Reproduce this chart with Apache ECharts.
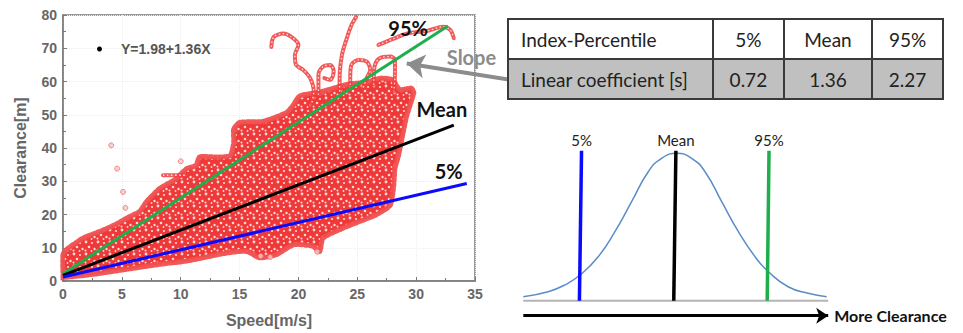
<!DOCTYPE html>
<html>
<head>
<meta charset="utf-8">
<script src="https://cdn.jsdelivr.net/npm/echarts@6/dist/echarts.min.js"></script>
<style>
  html, body { margin: 0; padding: 0; background: #fff; }
  #wrap { position: relative; width: 963px; height: 333px; }
  #chart { position: absolute; left: 0; top: 0; width: 963px; height: 333px; }
  #coef {
    position: absolute; left: 507px; top: 18px; width: 437px; height: 79px;
    border-collapse: collapse; font-family: Lato, 'Noto Sans', sans-serif; font-size: 19px; color: #222;
  }
  #coef td { border: 2px solid #3a3a3a; padding: 0; text-align: center; height: 38px; }
  #coef td:first-child { text-align: left; padding-left: 12px; width: 191px; }
  #coef tr.grey td { background: #c0c0c0; }
</style>
</head>
<body>
<div id="wrap">
  <div id="chart"></div>
  <table id="coef"></table>
</div>
<script>
const cloudOutline = [
  [0, 1], [0, 8], [0.3, 9.5], [1.7, 12.9], [3.1, 14.9], [4.4, 16.9], [5.4, 18.9], [6.5, 20.9],
  [7.1, 23.9], [8.2, 27.8], [9.5, 30.5], [10.5, 33.8], [11.3, 34.8], [11.6, 37.3], [13, 37.3],
  [14.2, 37.7], [14.5, 41.7], [14.5, 45.7], [15, 47.7], [17, 48], [19, 50.7], [19.5, 52.6],
  [20.1, 55.6], [22, 57], [24, 59], [26, 60], [27, 61], [28, 60.5], [28.6, 57.6], [29.6, 58],
  [29.8, 56.6], [29.2, 49.7], [28.9, 44.7], [28.5, 37.7], [28.2, 33.8], [28.1, 28.8],
  [27.8, 22.8], [26.6, 19.9], [25.2, 17.9], [23.8, 15.9], [22.1, 12.9], [21.8, 8.9],
  [21.2, 10.5], [19.6, 10.9], [18.1, 7.9], [16.7, 7], [15.6, 8.9], [13.9, 8.4], [11.9, 7],
  [10.5, 6], [8.2, 5], [5.4, 3.5], [2.55, 2], [0, 1]
];
// loose trails of points leaving the cloud
const trailA = [[17.7, 70.4], [17.9, 73.4], [18.7, 74.4], [19.4, 73.4], [20, 71], [19.7, 68], [19.8, 65], [20.4, 63.5], [21, 61], [21.3, 57], [21.1, 53]];
const trailB = [[21.7, 56], [21.7, 62], [22.1, 64.5], [22.7, 65], [23, 63], [22.7, 60.5], [22.2, 61]];
const trailC = [[23.5, 57], [23.5, 61], [23.7, 68], [24.1, 72.9], [24.5, 76.9], [24.9, 79.4]];
const trailD = [[24.4, 59], [24.4, 61], [24.5, 65], [25.1, 66.5], [25.8, 66], [26.1, 63.5], [25.8, 61], [25.5, 58]];
const trailE = [[26.4, 59], [26.4, 61], [26.5, 65], [26.9, 67], [27.8, 67.5], [28.2, 66.5], [28.2, 62], [28.1, 57]];
const trailF = [[26.8, 71], [28.1, 72.9], [29.2, 74.4], [30.9, 75.2], [32.3, 76.5], [32.9, 75.5], [33.2, 73]];
const trailG = [[8.5, 31.8], [10.5, 31.8]];
const outliers = [[4.1, 40.8], [4.6, 33.8], [5.1, 26.8], [5.3, 22], [10, 36], [21.6, 8.8], [16.8, 7.5], [17.6, 7.2]];

// percentile regression lines
const fit95 = [[0, 2.2], [32.7, 76.7]];
const fitMean = [[0, 1.7], [33.2, 46.9]];
const fit5 = [[0, 1.2], [34.3, 29.3]];

const tableHeader = ['Index-Percentile', '5%', 'Mean', '95%'];
const tableRow = ['Linear coefficient [s]', '0.72', '1.36', '2.27'];

// sketch of the distribution (relative position, relative height)
const bellCurve = [
  [0, 2.7], [8.2, 6], [13.7, 10.5], [18.7, 17.1], [24.7, 29.3], [30.2, 46], [35.7, 66],
  [41.2, 86], [45.6, 94.9], [50.6, 98.3], [55.5, 94.9], [59.9, 86], [65.4, 66], [70.9, 46],
  [76.4, 29.3], [80.8, 19.3], [87.3, 9.3], [93.9, 4.9], [100, 2.7]
];
const bellBase = [[0, 0], [100.5, 0]];
const bell5 = [[18.5, 0], [19.2, 100]];
const bellMean = [[49.6, 0], [50.3, 100]];
const bell95 = [[80.4, 0], [81, 100]];

const table = document.getElementById('coef');
table.innerHTML =
  '<tr>' + tableHeader.map(t => '<td>' + t + '</td>').join('') + '</tr>' +
  '<tr class="grey">' + tableRow.map(t => '<td>' + t + '</td>').join('') + '</tr>';

// texture tile for the dense point cloud (pale centres of the hollow markers)
function speckle() {
  const c = document.createElement('canvas');
  c.width = 12; c.height = 12;
  const g = c.getContext('2d');
  g.fillStyle = '#ee2e2e';
  g.fillRect(0, 0, 12, 12);
  g.fillStyle = '#fbd4d4';
  [[2, 2, 1.4], [8, 3, 1.1], [5, 7, 1.3], [10.5, 9, 1.2], [1.5, 10.5, 1], [7.5, 11, 0.9]].forEach(function(d) {
    g.beginPath(); g.arc(d[0], d[1], d[2], 0, Math.PI * 2); g.fill();
  });
  return c.toDataURL();
}
const speckleUrl = speckle();

const axisFont = { color: '#666', fontSize: 14, fontWeight: 'bold', fontFamily: 'Liberation Sans' };
const markFont = { color: '#111', fontSize: 20, fontWeight: 'bold', fontFamily: 'Lato' };

// a trail is drawn as a red chain with pale centres, like the hollow markers
function trail(points) {
  return [
    {
      type: 'line', data: points, xAxisIndex: 0, yAxisIndex: 0, smooth: 0.3,
      symbol: 'none', silent: true, z: 3,
      lineStyle: { color: '#f03c3c', width: 4, opacity: 0.85, cap: 'round', join: 'round' }
    },
    {
      type: 'line', data: points, xAxisIndex: 0, yAxisIndex: 0, smooth: 0.3,
      symbol: 'none', silent: true, z: 3,
      lineStyle: { color: '#fde0e0', width: 1.3, type: [1.5, 2.5] }
    }
  ];
}

function fitLine(points, color, label) {
  return {
    type: 'line', xAxisIndex: 0, yAxisIndex: 0, symbol: 'circle', symbolSize: 0, z: 5,
    lineStyle: { color: color, width: 3 },
    itemStyle: { color: color },
    data: [points[0], { value: points[1], label: Object.assign({ show: true }, markFont, label) }]
  };
}

function bellMarker(points, color, text) {
  return {
    type: 'line', xAxisIndex: 1, yAxisIndex: 1, symbol: 'circle', symbolSize: 0, z: 5,
    lineStyle: { color: color, width: 3.5 },
    data: [points[0], {
      value: points[1],
      label: { show: true, formatter: text, position: 'top', distance: 3, color: '#222', fontSize: 15, fontFamily: 'Lato' }
    }]
  };
}

const chart = echarts.init(document.getElementById('chart'), null, { renderer: 'svg' });

const slopeLine = fitLine(fit95, '#1fae4c', { formatter: '95%', position: 'left', distance: 20, offset: [0, 2] });
// pointer from the table edge to the slope of the 95% line
slopeLine.markLine = {
  silent: true, symbol: ['none', 'arrow'], symbolSize: 18, label: { show: false },
  lineStyle: { color: '#8c8c8c', width: 4, type: 'solid' },
  data: [[{ x: 512, y: 80 }, { coord: [29.2, 65.4] }]]
};
slopeLine.markPoint = {
  silent: true, symbolSize: 0,
  label: { show: true, position: 'inside', formatter: 'Slope', color: '#8c8c8c', fontSize: 20, fontWeight: 'bold', fontFamily: 'Lato' },
  data: [{ coord: [34.7, 67.5] }]
};

chart.setOption({
  animation: false,
  backgroundColor: '#fff',
  legend: {
    left: 92, top: 37, selectedMode: false,
    itemWidth: 33, itemHeight: 5,
    textStyle: { color: '#555', fontSize: 14, fontWeight: 'bold', fontFamily: 'Liberation Sans' },
    data: [{ name: 'Y=1.98+1.36X', icon: 'circle', itemStyle: { color: '#000' } }]
  },
  grid: [
    { left: 63, right: 488, top: 15, bottom: 50, show: true, borderColor: '#7a7a7a', borderWidth: 1.5 },
    { left: 523.3, right: 133.3, top: 150.7, bottom: 14.3 }
  ],
  xAxis: [
    {
      type: 'value', gridIndex: 0, min: 0, max: 35, interval: 5,
      name: 'Speed[m/s]', nameLocation: 'middle', nameGap: 31,
      nameTextStyle: Object.assign({}, axisFont, { fontSize: 16 }),
      axisLine: { onZero: false, lineStyle: { color: '#7a7a7a', width: 1.5 } },
      axisTick: { inside: true, length: 4, lineStyle: { color: '#7a7a7a' } },
      minorTick: { show: true, splitNumber: 2, length: 3, lineStyle: { color: '#7a7a7a' } },
      axisLabel: Object.assign({ margin: 6 }, axisFont),
      splitLine: { show: true, lineStyle: { color: '#eeeeee', type: 'dotted' } }
    },
    {
      type: 'value', gridIndex: 1, min: 0, max: 101, show: false
    }
  ],
  yAxis: [
    {
      type: 'value', gridIndex: 0, min: 0, max: 80, interval: 10,
      name: 'Clearance[m]', nameLocation: 'middle', nameGap: 35,
      nameTextStyle: Object.assign({}, axisFont, { fontSize: 16 }),
      axisLine: { onZero: false, lineStyle: { color: '#7a7a7a', width: 1.5 } },
      axisTick: { inside: true, length: 4, lineStyle: { color: '#7a7a7a' } },
      minorTick: { show: true, splitNumber: 2, length: 3, lineStyle: { color: '#7a7a7a' } },
      axisLabel: Object.assign({ margin: 6 }, axisFont),
      splitLine: { show: true, lineStyle: { color: '#eeeeee', type: 'dotted' } }
    },
    { type: 'value', gridIndex: 1, min: -12, max: 100, show: false }
  ],
  series: [
    {
      name: 'Y=1.98+1.36X', type: 'custom', xAxisIndex: 0, yAxisIndex: 0, z: 2, silent: true,
      data: [cloudOutline[0]],
      renderItem: function(params, api) {
        return {
          type: 'polygon',
          shape: { points: cloudOutline.map(p => api.coord(p)), smooth: 0.2 },
          style: {
            fill: { image: speckleUrl, repeat: 'repeat' },
            stroke: '#f05050', lineWidth: 5, lineDash: [3, 2], lineCap: 'round', opacity: 0.95
          }
        };
      }
    }
  ].concat(
    trail(trailA), trail(trailB), trail(trailC), trail(trailD), trail(trailE), trail(trailF), trail(trailG),
    [
      {
        type: 'scatter', xAxisIndex: 0, yAxisIndex: 0, data: outliers, symbolSize: 5, z: 3, silent: true,
        itemStyle: { color: '#f8c4c4', borderColor: '#f07070', borderWidth: 1 }
      },
      slopeLine,
      fitLine(fitMean, '#000000', { formatter: 'Mean', position: 'top', distance: 6, offset: [-12, 0] }),
      fitLine(fit5, '#0a0aff', { formatter: '5%', position: 'top', distance: 3, offset: [-18, 0] }),
      {
        type: 'line', xAxisIndex: 1, yAxisIndex: 1, data: bellBase, symbol: 'none', z: 2, silent: true,
        lineStyle: { color: '#b4b4b4', width: 2 }
      },
      {
        type: 'line', xAxisIndex: 1, yAxisIndex: 1, data: bellCurve, smooth: true, symbol: 'none', z: 3,
        lineStyle: { color: '#5b8cc8', width: 1.5 },
        markLine: {
          silent: true, symbol: ['none', 'arrow'], symbolSize: 12,
          lineStyle: { color: '#000', width: 3, type: 'solid' },
          label: { show: true, position: 'end', formatter: 'More Clearance', color: '#111', fontSize: 16, fontWeight: 'bold', fontFamily: 'Lato', distance: 6 },
          data: [[{ coord: [0, -10] }, { coord: [100.5, -10] }]]
        }
      },
      bellMarker(bell5, '#0a0aff', '5%'),
      bellMarker(bellMean, '#000000', 'Mean'),
      bellMarker(bell95, '#1fae4c', '95%')
    ]
  )
});
</script>
</body>
</html>
